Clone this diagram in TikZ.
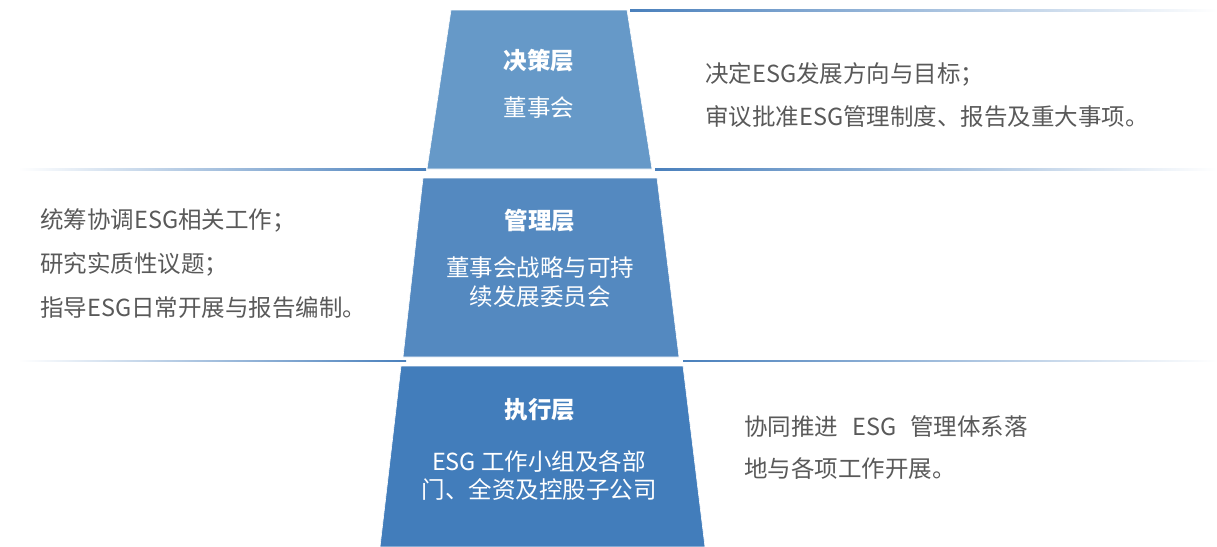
\documentclass[tikz,border=0pt]{standalone}
\usepackage{fontspec}
\setmainfont{Noto Sans CJK SC}
\usetikzlibrary{positioning}
\definecolor{decideblue}{RGB}{102,153,200}
\definecolor{manageblue}{RGB}{84,137,192}
\definecolor{executeblue}{RGB}{66,125,187}
\definecolor{ruleblue}{RGB}{74,128,188}
\definecolor{notegray}{RGB}{89,89,89}
\tikzset{
  tier/.style={draw=white,line width=0.6pt},
  tiertitle/.style={text=white,inner sep=0pt,
                    font=\fontsize{23.5}{23.5}\selectfont\bfseries},
  tierbody/.style={text=white,align=center,inner sep=0pt},
  remark/.style={text=notegray,anchor=west,align=left,inner sep=0pt},
  ruleleft/.style={left color=white,right color=ruleblue},
  ruleright/.style={left color=ruleblue,right color=white},
}

\begin{document}
\begin{tikzpicture}[x=1pt,y=-1pt]
    \useasboundingbox (0,0) rectangle (1217,546);

    % Tiers
    \fill[decideblue,tier]  (451,10)  -- (627,10)  -- (652,169) -- (427,169) -- cycle;
    \fill[manageblue,tier]  (423,178) -- (657,178) -- (679,357) -- (403,357) -- cycle;
    \fill[executeblue,tier] (401,366) -- (683,366) -- (705,547) -- (380,547) -- cycle;

    % Dividers
    \shade[ruleright] (630,9.8)   rectangle (1217,11.2);
    \shade[ruleleft]  (18,168.8)  rectangle (426,170.2);
    \shade[ruleright] (655,168.8) rectangle (1217,170.2);
    \shade[ruleleft]  (18,360.3)  rectangle (406,361.7);
    \shade[ruleright] (683,360.3) rectangle (1217,361.7);

    % Tier labels
    \node[tiertitle] (decide) at (539,61) {决策层};
    \node[tierbody,font=\fontsize{23.5}{29}\selectfont] (board) at (539,108)
        {董事会};
    \node[tiertitle] (manage) at (540,221) {管理层};
    \node[tierbody,font=\fontsize{23.5}{29}\selectfont] (committee) at (540,282.5)
        {董事会战略与可持\\续发展委员会};
    \node[tiertitle] (execute) at (540,410) {执行层};
    \node[tierbody,font=\fontsize{23.5}{28}\selectfont] (teams) at (539,475)
        {ESG 工作小组及各部\\门、全资及控股子公司};

    % Remarks
    \node[remark,font=\fontsize{23.5}{43}\selectfont] (decidenote) at (705,95.5)
        {决定ESG发展方向与目标；\\审议批准ESG管理制度、报告及重大事项。};
    \node[remark,font=\fontsize{23.5}{44}\selectfont] (managenote) at (40,264)
        {统筹协调ESG相关工作；\\研究实质性议题；\\指导ESG日常开展与报告编制。};
    \node[remark,font=\fontsize{23.5}{42}\selectfont] (executenote) at (744,448)
        {协同推进\hspace{14pt}ESG\hspace{14pt}管理体系落\\地与各项工作开展。};
\end{tikzpicture}
\end{document}
